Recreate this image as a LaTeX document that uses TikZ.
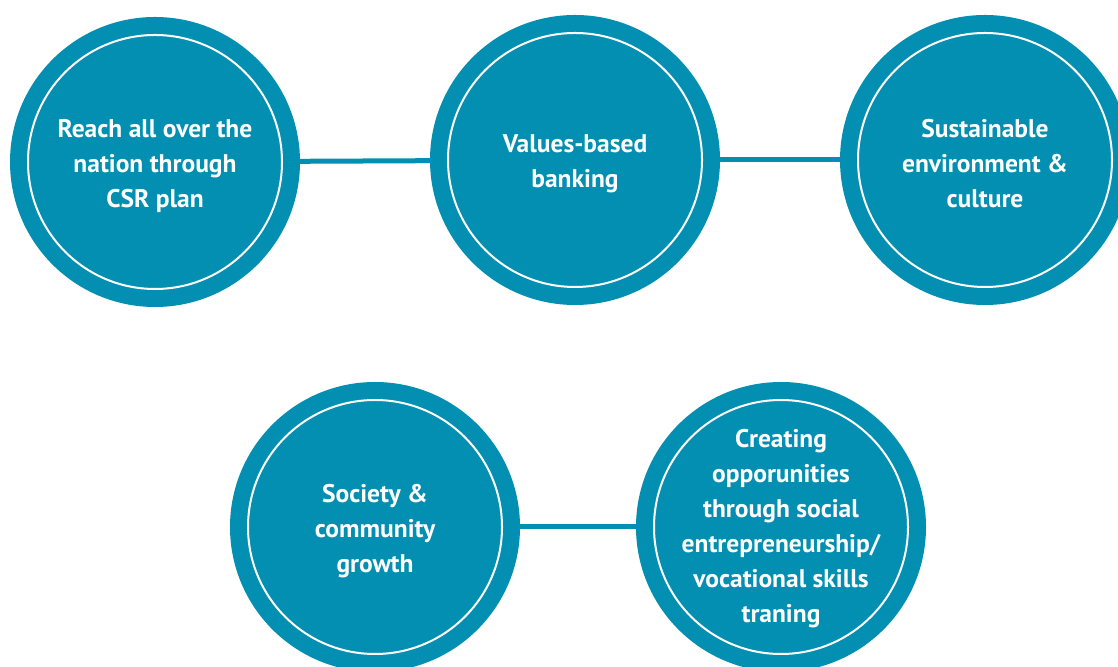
\documentclass[tikz,border=0pt]{standalone}
\usepackage{fontspec}
\setmainfont{PT Sans}
\definecolor{teal1}{HTML}{038FB1}
\begin{document}
\begin{tikzpicture}[x=1pt,y=1pt,
  bubble/.style={circle,fill=teal1,minimum size=290pt,inner sep=0pt},
  txt/.style={text=white,align=center,inner sep=0pt,font=\bfseries\fontsize{25.5}{35}\selectfont},
  ring/.style={draw=white,line width=2pt},
  link/.style={draw=teal1,line width=5pt}]
\clip (0,0) rectangle (1118,666);
\fill[white] (0,0) rectangle (1118,666);
\node[bubble] (c1) at (155,504) {};
\node[bubble] (c2) at (575,506) {};
\node[bubble] (c3) at (985,506) {};
\node[bubble] (c4) at (375,139) {};
\node[bubble] (c5) at (781,139) {};
\foreach \n in {c1,c2,c3,c4,c5} \draw[ring] (\n.center) circle[radius=127pt];
\node[txt] (t1) at ([yshift=-4pt]c1.center) {Reach all over the\\nation through\\CSR plan};
\node[txt] (t2) at ([yshift=-4pt]c2.center) {Values-based\\banking};
\node[txt] (t3) at ([yshift=-4pt]c3.center) {Sustainable\\environment \&\\culture};
\node[txt] (t4) at ([yshift=-4pt]c4.center) {Society \&\\community\\growth};
\node[txt] (t5) at ([yshift=-2pt]c5.center) {Creating\\opporunities\\through social\\entrepreneurship/\\vocational skills\\traning};
\draw[link] (c1) -- (c2);
\draw[link] (c2) -- (c3);
\draw[link] (c4) -- (c5);
\end{tikzpicture}
\end{document}
